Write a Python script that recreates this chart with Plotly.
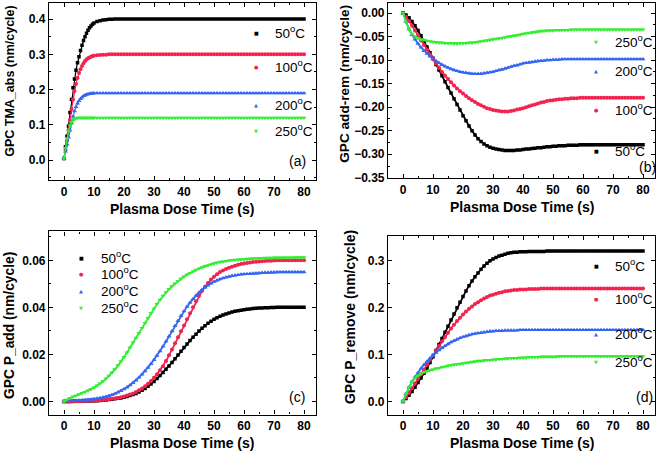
import plotly.graph_objects as go

W, H = 661, 459

# ---------------- data ----------------
xa_early = [0, 0.5, 1, 1.5, 2, 2.5, 3, 3.5, 4, 4.5, 5, 5.5, 6, 6.5, 7, 7.5, 8, 8.5, 9, 9.5, 10]
xa = xa_early + list(range(11, 81))
xt = list(range(0, 81))

labels = ["50", "100", "200", "250"]

a_50 = [0.005, 0.038, 0.068, 0.097, 0.135, 0.172, 0.205, 0.230, 0.255, 0.276,
        0.293, 0.311, 0.326, 0.339, 0.350, 0.360, 0.368, 0.375, 0.380, 0.385,
        0.389,
        0.393, 0.395, 0.397, 0.398, 0.399, 0.399, 0.4, 0.4, 0.4, 0.4,
        0.4, 0.4, 0.4, 0.4, 0.4, 0.4, 0.4, 0.4, 0.4, 0.4,
        0.4, 0.4, 0.4, 0.4, 0.4, 0.4, 0.4, 0.4, 0.4, 0.4,
        0.4, 0.4, 0.4, 0.4, 0.4, 0.4, 0.4, 0.4, 0.4, 0.4,
        0.4, 0.4, 0.4, 0.4, 0.4, 0.4, 0.4, 0.4, 0.4, 0.4,
        0.4, 0.4, 0.4, 0.4, 0.4, 0.4, 0.4, 0.4, 0.4, 0.4,
        0.4, 0.4, 0.4, 0.4, 0.4, 0.4, 0.4, 0.4, 0.4, 0.4]
a_100 = [0.005, 0.030, 0.055, 0.085, 0.115, 0.145, 0.172, 0.196, 0.216, 0.233,
         0.247, 0.258, 0.267, 0.275, 0.281, 0.285, 0.289, 0.291, 0.293, 0.295,
         0.296,
         0.297, 0.298, 0.299, 0.299, 0.3, 0.3, 0.3, 0.3, 0.3, 0.3,
         0.3, 0.3, 0.3, 0.3, 0.3, 0.3, 0.3, 0.3, 0.3, 0.3,
         0.3, 0.3, 0.3, 0.3, 0.3, 0.3, 0.3, 0.3, 0.3, 0.3,
         0.3, 0.3, 0.3, 0.3, 0.3, 0.3, 0.3, 0.3, 0.3, 0.3,
         0.3, 0.3, 0.3, 0.3, 0.3, 0.3, 0.3, 0.3, 0.3, 0.3,
         0.3, 0.3, 0.3, 0.3, 0.3, 0.3, 0.3, 0.3, 0.3, 0.3,
         0.3, 0.3, 0.3, 0.3, 0.3, 0.3, 0.3, 0.3, 0.3, 0.3]
a_200 = [0.005, 0.025, 0.045, 0.065, 0.085, 0.105, 0.124, 0.139, 0.151, 0.161,
         0.168, 0.174, 0.178, 0.182, 0.184, 0.186, 0.187, 0.188, 0.189, 0.189,
         0.19,
         0.19, 0.19, 0.19, 0.19, 0.19, 0.19, 0.19, 0.19, 0.19, 0.19,
         0.19, 0.19, 0.19, 0.19, 0.19, 0.19, 0.19, 0.19, 0.19, 0.19,
         0.19, 0.19, 0.19, 0.19, 0.19, 0.19, 0.19, 0.19, 0.19, 0.19,
         0.19, 0.19, 0.19, 0.19, 0.19, 0.19, 0.19, 0.19, 0.19, 0.19,
         0.19, 0.19, 0.19, 0.19, 0.19, 0.19, 0.19, 0.19, 0.19, 0.19,
         0.19, 0.19, 0.19, 0.19, 0.19, 0.19, 0.19, 0.19, 0.19, 0.19,
         0.19, 0.19, 0.19, 0.19, 0.19, 0.19, 0.19, 0.19, 0.19, 0.19]
a_250 = [0.005, 0.035, 0.062, 0.083, 0.098, 0.108, 0.114, 0.117, 0.119, 0.12,
         0.12, 0.12, 0.12, 0.12, 0.12, 0.12, 0.12, 0.12, 0.12, 0.12,
         0.12,
         0.12, 0.12, 0.12, 0.12, 0.12, 0.12, 0.12, 0.12, 0.12, 0.12,
         0.12, 0.12, 0.12, 0.12, 0.12, 0.12, 0.12, 0.12, 0.12, 0.12,
         0.12, 0.12, 0.12, 0.12, 0.12, 0.12, 0.12, 0.12, 0.12, 0.12,
         0.12, 0.12, 0.12, 0.12, 0.12, 0.12, 0.12, 0.12, 0.12, 0.12,
         0.12, 0.12, 0.12, 0.12, 0.12, 0.12, 0.12, 0.12, 0.12, 0.12,
         0.12, 0.12, 0.12, 0.12, 0.12, 0.12, 0.12, 0.12, 0.12, 0.12,
         0.12, 0.12, 0.12, 0.12, 0.12, 0.12, 0.12, 0.12, 0.12, 0.12]

b_50 = [0, -0.004, -0.010, -0.018, -0.027, -0.037, -0.048, -0.060, -0.072, -0.084,
        -0.096, -0.109, -0.121, -0.133, -0.146, -0.158, -0.170, -0.182, -0.194, -0.206,
        -0.218, -0.229, -0.240, -0.250, -0.259, -0.267, -0.273, -0.278, -0.282, -0.285,
        -0.287, -0.289, -0.290, -0.291, -0.292, -0.292, -0.292, -0.292, -0.291, -0.291,
        -0.290, -0.289, -0.289, -0.288, -0.287, -0.286, -0.286, -0.285, -0.284, -0.284,
        -0.283, -0.283, -0.282, -0.282, -0.282, -0.281, -0.281, -0.281, -0.281, -0.280,
        -0.280, -0.280, -0.280, -0.280, -0.280, -0.280, -0.280, -0.280, -0.280, -0.280,
        -0.280, -0.280, -0.280, -0.280, -0.280, -0.280, -0.280, -0.280, -0.280, -0.280,
        -0.280]
b_100 = [0, -0.008, -0.017, -0.027, -0.037, -0.047, -0.058, -0.068, -0.078, -0.088,
         -0.098, -0.107, -0.116, -0.125, -0.133, -0.140, -0.147, -0.154, -0.160, -0.166,
         -0.171, -0.176, -0.181, -0.185, -0.189, -0.193, -0.196, -0.199, -0.202, -0.204,
         -0.206, -0.207, -0.208, -0.209, -0.209, -0.209, -0.208, -0.207, -0.205, -0.204,
         -0.202, -0.200, -0.198, -0.196, -0.194, -0.192, -0.190, -0.189, -0.187, -0.186,
         -0.185, -0.184, -0.183, -0.183, -0.182, -0.182, -0.181, -0.181, -0.181, -0.180,
         -0.180, -0.180, -0.180, -0.180, -0.180, -0.180, -0.180, -0.180, -0.180, -0.180,
         -0.180, -0.180, -0.180, -0.180, -0.180, -0.180, -0.180, -0.180, -0.180, -0.180,
         -0.180]
b_200 = [0, -0.018, -0.034, -0.046, -0.056, -0.065, -0.073, -0.080, -0.086, -0.092,
         -0.097, -0.102, -0.106, -0.110, -0.113, -0.116, -0.119, -0.121, -0.123, -0.125,
         -0.126, -0.127, -0.128, -0.129, -0.129, -0.129, -0.129, -0.128, -0.127, -0.126,
         -0.125, -0.123, -0.121, -0.120, -0.118, -0.116, -0.114, -0.112, -0.111, -0.109,
         -0.107, -0.106, -0.105, -0.104, -0.103, -0.102, -0.101, -0.101, -0.100, -0.100,
         -0.099, -0.099, -0.099, -0.098, -0.098, -0.098, -0.098, -0.098, -0.098, -0.098,
         -0.098, -0.098, -0.098, -0.098, -0.098, -0.098, -0.098, -0.098, -0.098, -0.098,
         -0.098, -0.098, -0.098, -0.098, -0.098, -0.098, -0.098, -0.098, -0.098, -0.098,
         -0.098]
b_250 = [0, -0.020, -0.035, -0.044, -0.050, -0.053, -0.056, -0.057, -0.059, -0.060,
         -0.061, -0.062, -0.063, -0.063, -0.064, -0.064, -0.064, -0.065, -0.065, -0.064,
         -0.064, -0.064, -0.063, -0.063, -0.062, -0.061, -0.060, -0.059, -0.058, -0.057,
         -0.056, -0.055, -0.054, -0.053, -0.052, -0.050, -0.049, -0.048, -0.047, -0.046,
         -0.044, -0.043, -0.042, -0.041, -0.040, -0.039, -0.038, -0.038, -0.037, -0.037,
         -0.037, -0.036, -0.036, -0.036, -0.036, -0.036, -0.035, -0.035, -0.035, -0.035,
         -0.035, -0.035, -0.035, -0.035, -0.035, -0.035, -0.035, -0.035, -0.035, -0.035,
         -0.035, -0.035, -0.035, -0.035, -0.035, -0.035, -0.035, -0.035, -0.035, -0.035,
         -0.035]

c_50 = [0, 0, 0, 0.0001, 0.0001, 0.0001, 0.0001, 0.0002, 0.0002, 0.0002,
        0.0003, 0.0003, 0.0004, 0.0005, 0.0006, 0.0008, 0.0009, 0.0011, 0.0013, 0.0015,
        0.0018, 0.0021, 0.0025, 0.0029, 0.0034, 0.0040, 0.0047, 0.0055, 0.0064, 0.0074,
        0.0085, 0.0097, 0.0110, 0.0123, 0.0137, 0.0151, 0.0166, 0.0181, 0.0197, 0.0213,
        0.0229, 0.0244, 0.0259, 0.0273, 0.0286, 0.0299, 0.0311, 0.0322, 0.0332, 0.0341,
        0.0349, 0.0356, 0.0362, 0.0368, 0.0372, 0.0376, 0.0380, 0.0383, 0.0386, 0.0388,
        0.0390, 0.0392, 0.0393, 0.0395, 0.0396, 0.0397, 0.0397, 0.0398, 0.0398, 0.0399,
        0.0399, 0.0400, 0.0400, 0.0400, 0.0400, 0.0400, 0.0400, 0.0400, 0.0400, 0.0400,
        0.0400]
c_100 = [0, 0, 0, 0, 0.0001, 0.0001, 0.0001, 0.0002, 0.0002, 0.0003,
         0.0003, 0.0004, 0.0005, 0.0006, 0.0007, 0.0009, 0.0011, 0.0013, 0.0015, 0.0018,
         0.0021, 0.0025, 0.0029, 0.0034, 0.0040, 0.0047, 0.0055, 0.0064, 0.0075, 0.0087,
         0.0101, 0.0116, 0.0133, 0.0150, 0.0172, 0.0196, 0.0221, 0.0247, 0.0273, 0.0298,
         0.0323, 0.0349, 0.0375, 0.0401, 0.0426, 0.0449, 0.0470, 0.0488, 0.0504, 0.0518,
         0.0530, 0.0541, 0.0550, 0.0557, 0.0563, 0.0568, 0.0573, 0.0577, 0.0581, 0.0584,
         0.0587, 0.0589, 0.0591, 0.0593, 0.0594, 0.0595, 0.0596, 0.0597, 0.0598, 0.0598,
         0.0599, 0.0600, 0.0600, 0.0600, 0.0600, 0.0600, 0.0600, 0.0600, 0.0600, 0.0600,
         0.0600]
c_200 = [0, 0.0001, 0.0002, 0.0002, 0.0003, 0.0004, 0.0005, 0.0006, 0.0007, 0.0008,
         0.0010, 0.0012, 0.0014, 0.0017, 0.0020, 0.0024, 0.0028, 0.0033, 0.0039, 0.0045,
         0.0052, 0.0060, 0.0069, 0.0079, 0.0090, 0.0102, 0.0115, 0.0129, 0.0144, 0.0160,
         0.0177, 0.0195, 0.0214, 0.0234, 0.0255, 0.0277, 0.0299, 0.0321, 0.0343, 0.0364,
         0.0384, 0.0403, 0.0420, 0.0436, 0.0450, 0.0463, 0.0475, 0.0485, 0.0494, 0.0502,
         0.0509, 0.0515, 0.0520, 0.0524, 0.0528, 0.0531, 0.0534, 0.0536, 0.0538, 0.0540,
         0.0541, 0.0542, 0.0543, 0.0544, 0.0545, 0.0546, 0.0547, 0.0548, 0.0548, 0.0549,
         0.0549, 0.0550, 0.0550, 0.0550, 0.0550, 0.0550, 0.0550, 0.0550, 0.0550, 0.0550,
         0.0550]
c_250 = [0, 0.0008, 0.0014, 0.0020, 0.0025, 0.0030, 0.0035, 0.0040, 0.0046, 0.0052,
         0.0059, 0.0067, 0.0076, 0.0086, 0.0097, 0.0109, 0.0122, 0.0137, 0.0153, 0.0170,
         0.0188, 0.0208, 0.0229, 0.0250, 0.0270, 0.0290, 0.0312, 0.0333, 0.0354, 0.0375,
         0.0395, 0.0414, 0.0432, 0.0449, 0.0464, 0.0478, 0.0490, 0.0501, 0.0512, 0.0522,
         0.0531, 0.0539, 0.0546, 0.0553, 0.0559, 0.0565, 0.0570, 0.0575, 0.0579, 0.0583,
         0.0587, 0.0590, 0.0593, 0.0595, 0.0597, 0.0599, 0.0601, 0.0602, 0.0603, 0.0604,
         0.0605, 0.0606, 0.0607, 0.0608, 0.0608, 0.0609, 0.0609, 0.0610, 0.0610, 0.0610,
         0.0611, 0.0611, 0.0611, 0.0612, 0.0612, 0.0612, 0.0612, 0.0613, 0.0613, 0.0613,
         0.0613]

d_50 = [0, 0.006, 0.013, 0.021, 0.030, 0.040, 0.050, 0.060, 0.071, 0.083,
        0.095, 0.108, 0.121, 0.134, 0.147, 0.160, 0.173, 0.186, 0.199, 0.211,
        0.223, 0.235, 0.246, 0.256, 0.265, 0.273, 0.281, 0.288, 0.294, 0.299,
        0.303, 0.306, 0.309, 0.311, 0.313, 0.315, 0.316, 0.317, 0.317, 0.318,
        0.318, 0.318, 0.319, 0.319, 0.319, 0.319, 0.319, 0.319, 0.32, 0.32,
        0.32, 0.32, 0.32, 0.32, 0.32, 0.32, 0.32, 0.32, 0.32, 0.32,
        0.32, 0.32, 0.32, 0.32, 0.32, 0.32, 0.32, 0.32, 0.32, 0.32,
        0.32, 0.32, 0.32, 0.32, 0.32, 0.32, 0.32, 0.32, 0.32, 0.32,
        0.32]
d_100 = [0, 0.009, 0.018, 0.028, 0.038, 0.048, 0.058, 0.068, 0.078, 0.088,
         0.098, 0.108, 0.118, 0.128, 0.137, 0.146, 0.155, 0.163, 0.171, 0.178,
         0.185, 0.191, 0.197, 0.202, 0.207, 0.211, 0.215, 0.219, 0.222, 0.225,
         0.227, 0.229, 0.231, 0.232, 0.234, 0.235, 0.236, 0.237, 0.237, 0.238,
         0.238, 0.238, 0.239, 0.239, 0.239, 0.239, 0.24, 0.24, 0.24, 0.24,
         0.24, 0.24, 0.24, 0.24, 0.24, 0.24, 0.24, 0.24, 0.24, 0.24,
         0.24, 0.24, 0.24, 0.24, 0.24, 0.24, 0.24, 0.24, 0.24, 0.24,
         0.24, 0.24, 0.24, 0.24, 0.24, 0.24, 0.24, 0.24, 0.24, 0.24,
         0.24]
d_200 = [0, 0.016, 0.030, 0.042, 0.052, 0.061, 0.070, 0.078, 0.085, 0.092,
         0.098, 0.104, 0.109, 0.114, 0.118, 0.122, 0.126, 0.129, 0.132, 0.135,
         0.137, 0.139, 0.141, 0.143, 0.144, 0.145, 0.146, 0.147, 0.148, 0.149,
         0.149, 0.150, 0.150, 0.150, 0.151, 0.151, 0.151, 0.151, 0.151, 0.152,
         0.152, 0.152, 0.152, 0.152, 0.152, 0.152, 0.152, 0.152, 0.152, 0.152,
         0.152, 0.152, 0.152, 0.152, 0.152, 0.152, 0.152, 0.152, 0.152, 0.152,
         0.152, 0.152, 0.152, 0.152, 0.152, 0.152, 0.152, 0.152, 0.152, 0.152,
         0.152, 0.152, 0.152, 0.152, 0.152, 0.152, 0.152, 0.152, 0.152, 0.152,
         0.152]
d_250 = [0, 0.016, 0.030, 0.042, 0.050, 0.055, 0.059, 0.062, 0.064, 0.066,
         0.068, 0.070, 0.071, 0.073, 0.074, 0.076, 0.077, 0.078, 0.079, 0.080,
         0.081, 0.082, 0.083, 0.084, 0.085, 0.086, 0.086, 0.087, 0.088, 0.088,
         0.089, 0.089, 0.090, 0.090, 0.091, 0.091, 0.092, 0.092, 0.092, 0.093,
         0.093, 0.093, 0.094, 0.094, 0.094, 0.094, 0.095, 0.095, 0.095, 0.095,
         0.095, 0.095, 0.096, 0.096, 0.096, 0.096, 0.096, 0.096, 0.096, 0.096,
         0.096, 0.096, 0.096, 0.096, 0.096, 0.096, 0.096, 0.096, 0.096, 0.096,
         0.096, 0.096, 0.096, 0.096, 0.096, 0.096, 0.096, 0.096, 0.096, 0.096,
         0.096]

for s in (a_50, a_100, a_200, a_250):
    assert len(s) == len(xa), len(s)
for s in (b_50, b_100, b_200, b_250, c_50, c_100, c_200, c_250, d_50, d_100, d_200, d_250):
    assert len(s) == len(xt), len(s)

# ---------------- style ----------------
FONT = "Arial, Liberation Sans, Helvetica, sans-serif"
colors = ["#000000", "#F2234F", "#3366F2", "#33EE33"]
symbols = ["square", "circle", "triangle-up", "triangle-down"]
msizes = [3.5, 4, 4.5, 4.5]
sym_chars = ["\u25A0", "\u25CF", "\u25B2", "\u25BC"]

def px_x(p):
    return p / W

def px_y(p):
    return 1 - p / H

panels = [
    dict(x=xa, ys=[a_50, a_100, a_200, a_250], dom=(49, 316, 3, 183),
         yr=[-0.0566, 0.4455], dtick=0.1, minor=0.05, fmt=".1f",
         title="GPC TMA_abs (nm/cycle)", tsize=12.5, ytx=10, yty=83,
         tag="(a)", tagpos=(297, 164), lw=1.2,
         leg_sym_x=256, leg_txt_x=273, leg_y=[33, 67, 106, 132]),
    dict(x=xt, ys=[b_50, b_100, b_200, b_250], dom=(388, 655, 3, 181),
         yr=[-0.351, 0.0216], dtick=0.05, minor=0.025, fmt=".2f",
         title="GPC add-rem (nm/cycle)", tsize=13.6, ytx=345, yty=85,
         tag="(b)", tagpos=(647, 170), lw=1.8,
         leg_sym_x=596, leg_txt_x=613, leg_y=[152, 111, 71, 42]),
    dict(x=xt, ys=[c_50, c_100, c_200, c_250], dom=(49, 316, 235, 421),
         yr=[-0.0056, 0.0723], dtick=0.02, minor=0.01, fmt=".2f",
         title="GPC P_add (nm/cycle)", tsize=13.8, ytx=10, yty=331,
         tag="(c)", tagpos=(297, 403), lw=1.8,
         leg_sym_x=81, leg_txt_x=99, leg_y=[261, 277, 294, 312]),
    dict(x=xt, ys=[d_50, d_100, d_200, d_250], dom=(388, 655, 240, 421),
         yr=[-0.028, 0.351], dtick=0.1, minor=0.05, fmt=".1f",
         title="GPC P_remove (nm/cycle)", tsize=14, ytx=350, yty=322,
         tag="(d)", tagpos=(644, 403), lw=1.8,
         leg_sym_x=596, leg_txt_x=613, leg_y=[269, 303, 338, 367]),
]

fig = go.Figure()
annotations = []
layout = {}

for i, p in enumerate(panels):
    n = "" if i == 0 else str(i + 1)
    xref, yref = "x" + n, "y" + n
    for k in range(4):
        fig.add_trace(go.Scatter(
            x=p["x"], y=p["ys"][k], mode="lines+markers", xaxis=xref, yaxis=yref,
            marker=dict(symbol=symbols[k], size=msizes[k], color=colors[k], line=dict(width=0)),
            line=dict(color=colors[k], width=p["lw"]),
            showlegend=False, name=labels[k] + "°C"))
    l, r, t, b = p["dom"]
    axis_common = dict(showline=True, linecolor="black", linewidth=1.2, mirror="ticks",
                       ticks="inside", ticklen=4, tickwidth=1, tickcolor="black",
                       showgrid=False, zeroline=False,
                       tickfont=dict(family=FONT, size=12, color="black", weight="bold"))
    layout["xaxis" + n] = dict(
        axis_common, domain=[px_x(l), px_x(r)], anchor=yref, range=[-5, 84],
        tickmode="linear", tick0=0, dtick=10,
        minor=dict(ticks="inside", ticklen=2, dtick=5, tick0=0, tickcolor="black"))
    layout["yaxis" + n] = dict(
        axis_common, domain=[px_y(b), px_y(t)], anchor=xref, range=p["yr"],
        tickmode="linear", tick0=0, dtick=p["dtick"], tickformat=p["fmt"],
        minor=dict(ticks="inside", ticklen=2, dtick=p["minor"], tick0=0, tickcolor="black"))
    # axis titles
    annotations.append(dict(text="Plasma Dose Time (s)", x=px_x((l + r) / 2), y=px_y(b + 29),
                            xref="paper", yref="paper", showarrow=False,
                            xanchor="center", yanchor="middle",
                            font=dict(family=FONT, size=14, color="black", weight="bold")))
    annotations.append(dict(text=p["title"], x=px_x(p["ytx"]), y=px_y(p["yty"]),
                            xref="paper", yref="paper", showarrow=False, textangle=-90,
                            xanchor="center", yanchor="middle",
                            font=dict(family=FONT, size=p["tsize"], color="black", weight="bold")))
    # panel tag
    annotations.append(dict(text=p["tag"], x=px_x(p["tagpos"][0]), y=px_y(p["tagpos"][1]),
                            xref="paper", yref="paper", showarrow=False,
                            xanchor="center", yanchor="middle",
                            font=dict(family=FONT, size=14, color="black")))
    # legend-like labels
    for k in range(4):
        yy = p["leg_y"][k]
        annotations.append(dict(text=sym_chars[k], x=px_x(p["leg_sym_x"]), y=px_y(yy + 1),
                                xref="paper", yref="paper", showarrow=False,
                                xanchor="center", yanchor="middle",
                                font=dict(family="DejaVu Sans", size=5, color=colors[k])))
        annotations.append(dict(text=labels[k] + "<sup>o</sup>C", x=px_x(p["leg_txt_x"]),
                                y=px_y(yy), xref="paper", yref="paper", showarrow=False,
                                xanchor="left", yanchor="middle",
                                font=dict(family=FONT, size=13.5, color="black")))

fig.update_layout(width=W, height=H, margin=dict(l=0, r=0, t=0, b=0),
                  paper_bgcolor="white", plot_bgcolor="white",
                  annotations=annotations, **layout)

fig.write_html("out.html")
